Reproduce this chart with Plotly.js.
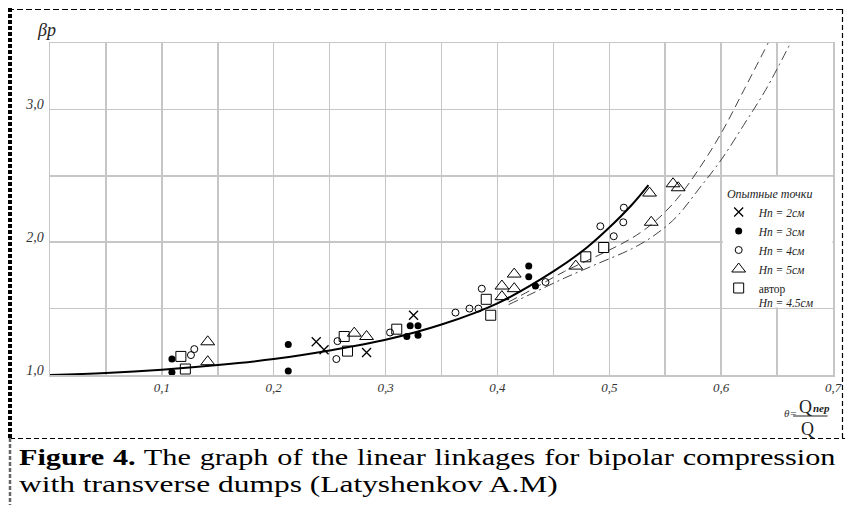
<!DOCTYPE html>
<html>
<head>
<meta charset="utf-8">
<script src="https://cdn.plot.ly/plotly-3.0.1.min.js"></script>
<style>
  html, body { margin:0; padding:0; background:#fff; }
  #wrap { position:relative; width:845px; height:505px; overflow:hidden; background:#fff; }
  #chart { position:absolute; left:0; top:0; width:845px; height:440px; }
  .cap { position:absolute; left:19px; white-space:nowrap;
    font-family:"Liberation Serif","Times New Roman",serif; font-size:24px; line-height:28px;
    color:#000; transform-origin:0 0; }
  #cap1 { top:443px; width:648px; text-align:justify; text-align-last:justify; transform:scaleX(1.26); }
  #cap2 { top:470px; width:440px; text-align:left; transform:scaleX(1.31); }
  #frame { position:absolute; left:0; top:0; width:845px; height:505px; pointer-events:none; }
</style>
</head>
<body>
<div id="wrap">
  <div id="chart"></div>
  <div id="cap1" class="cap"><b>Figure 4.</b> The graph of the linear linkages for bipolar compression</div>
  <div id="cap2" class="cap">with transverse dumps (Latyshenkov A.M)</div>
  <svg id="frame" width="845" height="505">
    <line x1="8" y1="9.5" x2="842" y2="9.5" stroke="#000" stroke-width="1.2" stroke-dasharray="6,3"/>
    <line x1="10" y1="8" x2="10" y2="438" stroke="#000" stroke-width="4" stroke-dasharray="4,2"/>
    <line x1="842.5" y1="9" x2="842.5" y2="438" stroke="#000" stroke-width="1.2" stroke-dasharray="5,3"/>
    <line x1="10" y1="438.5" x2="845" y2="438.5" stroke="#000" stroke-width="1.2" stroke-dasharray="5,3"/>
    <line x1="10" y1="438" x2="10" y2="505" stroke="#666" stroke-width="2.5" stroke-dasharray="4,2"/>
  </svg>
</div>
<script>
// ---- tick labels ----
const xTicks = [0.1, 0.2, 0.3, 0.4, 0.5, 0.6, 0.7];
const xTickText = ['0,1', '0,2', '0,3', '0,4', '0,5', '0,6', '0,7'];
const yTicks = [1, 2, 3];
const yTickText = ['1,0', '2,0', '3,0'];

// ---- legend labels ----
const legendTitle = 'Опытные точки';
const seriesNames = ['<i>Нп = 2см</i>', '<i>Нп = 3см</i>', '<i>Нп = 4см</i>', '<i>Нп = 5см</i>', 'автор<br><i>Нп = 4.5см</i>'];

// ---- experimental points ----
const hn2X = [0.238, 0.245, 0.283, 0.325];
const hn2Y = [1.25, 1.19, 1.17, 1.45];

const hn3X = [0.109, 0.109, 0.213, 0.213, 0.322, 0.329, 0.319, 0.329, 0.428, 0.428, 0.434];
const hn3Y = [1.12, 1.02, 1.23, 1.03, 1.37, 1.37, 1.29, 1.30, 1.82, 1.74, 1.67];

const hn4X = [0.126, 0.129, 0.256, 0.257, 0.304, 0.3625, 0.375, 0.383, 0.386, 0.443, 0.492, 0.504, 0.5125, 0.513];
const hn4Y = [1.15, 1.195, 1.12, 1.255, 1.32, 1.47, 1.50, 1.50, 1.65, 1.70, 2.12, 2.045, 2.15, 2.26];

const hn5X = [0.141, 0.141, 0.272, 0.283, 0.404, 0.404, 0.415, 0.415, 0.470, 0.536, 0.5375, 0.557, 0.5616];
const hn5Y = [1.25, 1.10, 1.315, 1.29, 1.67, 1.59, 1.76, 1.65, 1.82, 2.37, 2.15, 2.44, 2.41];

const authorX = [0.117, 0.121, 0.263, 0.266, 0.310, 0.390, 0.394, 0.479, 0.495];
const authorY = [1.14, 1.045, 1.29, 1.18, 1.345, 1.57, 1.45, 1.89, 1.96];

// ---- curves ----
const fitX = [0, 0.05, 0.1, 0.15, 0.2, 0.25, 0.3, 0.35, 0.4, 0.45, 0.48, 0.5, 0.52, 0.535];
const fitY = [1.0, 1.015, 1.04, 1.075, 1.12, 1.185, 1.265, 1.38, 1.54, 1.78, 1.96, 2.11, 2.28, 2.43];

const dashX = [0.41, 0.43, 0.46, 0.49, 0.52, 0.54, 0.56, 0.58, 0.60, 0.62, 0.642];
const dashY = [1.55, 1.64, 1.78, 1.90, 2.03, 2.15, 2.32, 2.55, 2.82, 3.14, 3.5];

const dashDotX = [0.41, 0.43, 0.46, 0.49, 0.52, 0.54, 0.56, 0.58, 0.60, 0.62, 0.64, 0.662];
const dashDotY = [1.53, 1.61, 1.73, 1.84, 1.95, 2.05, 2.19, 2.40, 2.62, 2.88, 3.15, 3.5];

const FONT = '"Liberation Serif", "Times New Roman", serif';
const GRID = '#c6c6c6';

const traces = [
  { x: dashX, y: dashY, mode: 'lines', showlegend: false, hoverinfo: 'skip',
    line: { color: '#444', width: 1, dash: '9px,5px', shape: 'spline', smoothing: 1 } },
  { x: dashDotX, y: dashDotY, mode: 'lines', showlegend: false, hoverinfo: 'skip',
    line: { color: '#444', width: 1, dash: '10px,4px,2px,4px', shape: 'spline', smoothing: 1 } },
  { x: fitX, y: fitY, mode: 'lines', showlegend: false, hoverinfo: 'skip',
    line: { color: '#000', width: 2, shape: 'spline', smoothing: 1 } },
  { x: hn2X, y: hn2Y, mode: 'markers', name: seriesNames[0],
    marker: { symbol: 'x-thin-open', size: 9, color: '#000', line: { color: '#000', width: 1.3 } } },
  { x: hn3X, y: hn3Y, mode: 'markers', name: seriesNames[1],
    marker: { symbol: 'circle', size: 7, color: '#000' } },
  { x: hn4X, y: hn4Y, mode: 'markers', name: seriesNames[2],
    marker: { symbol: 'circle-open', size: 7, color: '#000', line: { color: '#000', width: 1 } } },
  { x: hn5X, y: hn5Y, mode: 'markers', name: seriesNames[3],
    marker: { symbol: 'triangle-up-open', size: 12, color: '#000', line: { color: '#000', width: 1 } } },
  { x: authorX, y: authorY, mode: 'markers', name: seriesNames[4],
    marker: { symbol: 'square-open', size: 10, color: '#000', line: { color: '#000', width: 1 } } }
];

const layout = {
  width: 845, height: 440,
  margin: { l: 50, r: 12, t: 43, b: 65 },
  paper_bgcolor: '#fff', plot_bgcolor: '#fff',
  font: { family: FONT, color: '#222', size: 13 },
  showlegend: true,
  xaxis: {
    range: [0, 0.7], tickvals: xTicks, ticktext: xTickText,
    tickfont: { family: FONT, size: 13, style: 'italic', color: '#333' },
    showgrid: true, gridcolor: GRID, gridwidth: 1.5,
    minor: { dtick: 0.05, tick0: 0, showgrid: true, gridcolor: GRID, gridwidth: 1.5 },
    showline: true, mirror: true, linecolor: GRID, linewidth: 1.5,
    zeroline: false, ticks: '', fixedrange: true
  },
  yaxis: {
    range: [1, 3.5], tickvals: yTicks, ticktext: yTickText,
    tickfont: { family: FONT, size: 14, style: 'italic', color: '#333' },
    ticklabelshift: -5, ticklabelstandoff: 2,
    showgrid: true, gridcolor: GRID, gridwidth: 1.5,
    minor: { dtick: 0.5, tick0: 1, showgrid: true, gridcolor: GRID, gridwidth: 1.5 },
    showline: true, mirror: true, linecolor: GRID, linewidth: 1.5,
    zeroline: false, ticks: '', fixedrange: true
  },
  legend: {
    x: 0.854, xanchor: 'left', y: 0.58, yanchor: 'top',
    bgcolor: 'rgba(0,0,0,0)', borderwidth: 0,
    font: { family: FONT, size: 11.5, color: '#222' },
    title: { text: '<i>' + legendTitle + '</i>', side: 'top center', font: { family: FONT, size: 12, color: '#222' } },
    itemwidth: 30, valign: 'top', tracegroupgap: 0
  },
  shapes: [
    { type: 'rect', xref: 'x', yref: 'y', x0: 0.6015, x1: 0.6995, y0: 1.508, y1: 2.492,
      fillcolor: '#fff', line: { width: 0 }, layer: 'between' },
    { type: 'line', xref: 'paper', yref: 'paper', x0: 0.949, x1: 0.993, y0: -0.1235, y1: -0.1235,
      line: { color: '#222', width: 1.2 } }
  ],
  annotations: [
    { xref: 'paper', yref: 'paper', x: -0.005, y: 1.04, xanchor: 'center', yanchor: 'middle', showarrow: false,
      text: '<i>βp</i>', font: { family: FONT, size: 18, color: '#222' } },
    { xref: 'paper', yref: 'paper', x: 0.9455, y: -0.1145, xanchor: 'center', yanchor: 'middle', showarrow: false,
      text: '<i>θ=</i>', font: { family: FONT, size: 11, color: '#333' } },
    { xref: 'paper', yref: 'paper', x: 0.9655, y: -0.096, xanchor: 'center', yanchor: 'middle', showarrow: false,
      text: 'Q', font: { family: FONT, size: 18, color: '#222' } },
    { xref: 'paper', yref: 'paper', x: 0.9855, y: -0.098, xanchor: 'center', yanchor: 'middle', showarrow: false,
      text: '<b><i>пер</i></b>', font: { family: FONT, size: 11, color: '#222' } },
    { xref: 'paper', yref: 'paper', x: 0.968, y: -0.162, xanchor: 'center', yanchor: 'middle', showarrow: false,
      text: 'Q', font: { family: FONT, size: 18, color: '#222' } }
  ]
};

Plotly.newPlot('chart', traces, layout, { staticPlot: true, displayModeBar: false });
</script>
</body>
</html>
